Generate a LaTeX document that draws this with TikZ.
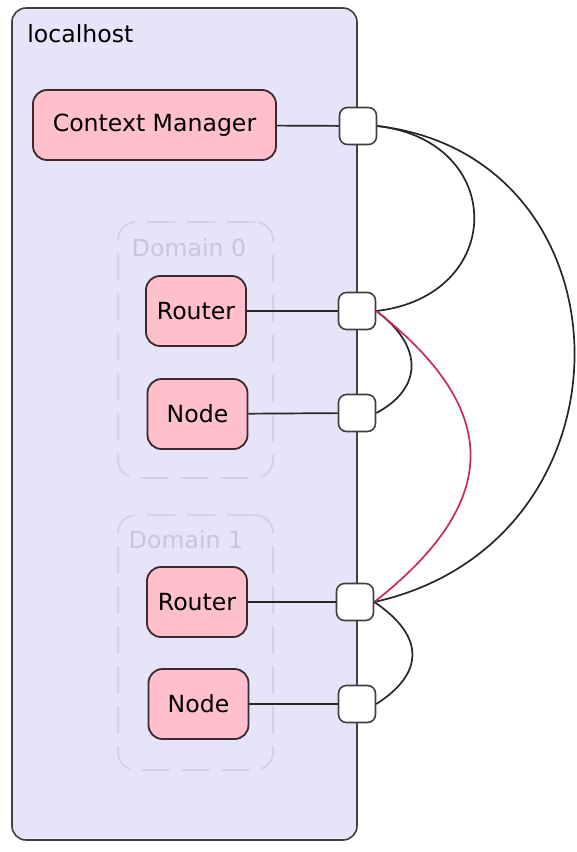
\documentclass[tikz,border=0pt]{standalone}
\usepackage{fontspec}
\setmainfont{DejaVu Sans}
\usetikzlibrary{positioning}
\definecolor{hostfill}{HTML}{E6E4F8}
\definecolor{procfill}{HTML}{FFC0CB}
\definecolor{procline}{HTML}{3C2830}
\definecolor{domline}{HTML}{D4D2E8}
\definecolor{domtext}{HTML}{C8C6DC}
\definecolor{linkred}{HTML}{C8285A}
\tikzstyle{hostbox} = [draw=black!75, fill=hostfill, rectangle, rounded corners=7pt, line width=0.8pt]
\tikzstyle{domainbox} = [draw=domline, rectangle, rounded corners=9pt, dash pattern=on 14pt off 6pt, line width=1pt]
\tikzstyle{procbox} = [draw=procline, fill=procfill, rectangle, rounded corners=7pt, line width=0.9pt, minimum height=35pt, minimum width=50pt, inner xsep=4pt]
\tikzstyle{portbox} = [draw=black!75, fill=white, rectangle, rounded corners=4pt, line width=0.8pt, minimum size=18.5pt, inner sep=0pt]
\tikzstyle{linkline} = [line width=0.85pt, draw=black!85]

\begin{document}
\begin{tikzpicture}[x=0.5pt, y=-0.5pt, font=\fontsize{11.8}{14}\selectfont]
        \useasboundingbox (0,0) rectangle (577,852);
        % the host box
        \node [hostbox, minimum width=172.5pt, minimum height=416pt] (localhost) at (184.5,424) {};
        \node [anchor=west, inner sep=0pt] (hostname) at (27,34) {localhost};
        % the two domains
        \node [domainbox, minimum width=77.5pt, minimum height=128pt] (dom0) at (195.5,350) {};
        \node [text=domtext] (dom0name) at (189,248) {Domain 0};
        \node [domainbox, minimum width=77.5pt, minimum height=127.5pt] (dom1) at (195.5,642.5) {};
        \node [text=domtext] (dom1name) at (186,540) {Domain 1};
        % the processes
        \node [procbox, minimum width=121.5pt] (cm) at (154.5,125) {Context Manager};
        \node [procbox] (router0) at (196,311) {Router};
        \node [procbox] (node0) at (197.5,414) {Node};
        \node [procbox] (router1) at (197,602) {Router};
        \node [procbox] (node1) at (198.5,704) {Node};
        % their ports on the host edge
        \node [portbox] (cmport) at (358,126) {};
        \node [portbox] (router0port) at (357,311) {};
        \node [portbox] (node0port) at (357,413) {};
        \node [portbox] (router1port) at (355,602) {};
        \node [portbox] (node1port) at (357,704) {};
        % process to port
        \draw [linkline] (cm) -- (cmport);
        \draw [linkline] (router0) -- (router0port);
        \draw [linkline] (node0) -- (node0port);
        \draw [linkline] (router1) -- (router1port);
        \draw [linkline] (node1) -- (node1port);
        % links between the ports
        \draw [linkline] (cmport.east) .. controls +(130,15) and +(130,-15) .. (router0port.east);
        \draw [linkline] (cmport.east) .. controls +(260,30) and +(270,-60) .. (router1port.east);
        \draw [linkline] (router0port.east) .. controls +(47,35) and +(47,-25) .. (node0port.east);
        \draw [linkline, draw=linkred] (router0port.east) .. controls +(127,100) and +(127,-100) .. (router1port.east);
        \draw [linkline] (router1port.east) .. controls +(52,35) and +(47,-30) .. (node1port.east);
    \end{tikzpicture}
\end{document}
